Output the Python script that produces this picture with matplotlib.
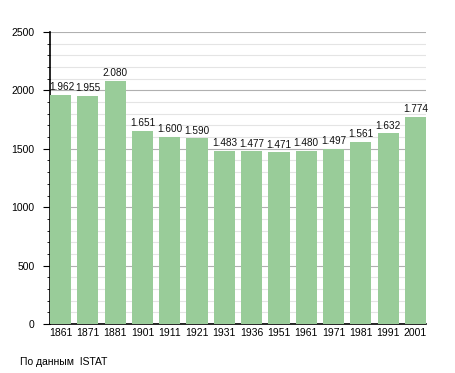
import matplotlib
matplotlib.use("Agg")
import matplotlib.pyplot as plt
from matplotlib.ticker import MultipleLocator

plt.rcParams['font.family'] = ['Liberation Sans', 'DejaVu Sans']

years = ['1861', '1871', '1881', '1901', '1911', '1921', '1931',
         '1936', '1951', '1961', '1971', '1981', '1991', '2001']
population = [1962, 1955, 2080, 1651, 1600, 1590, 1483,
              1477, 1471, 1480, 1497, 1561, 1632, 1774]

fig = plt.figure(figsize=(4.55, 3.73), dpi=100)
ax = fig.add_axes([50 / 455, 49 / 373, 376 / 455, 292 / 373])

x = range(len(years))
bars = ax.bar(x, population, width=0.775, color='#99cc99', zorder=3)

# value labels, thousands with a dot
for i, (b, v) in enumerate(zip(bars, population)):
    cx = b.get_x() + b.get_width() / 2
    if i == 0:
        cx += 0.05  # nudge first label off the axis line
    ax.text(cx, v + 40, f"{v:,}".replace(',', '.'),
            ha='center', va='baseline', fontsize=7.2, color='#111111', zorder=4)

ax.set_xlim(-0.3875, len(years) - 1 + 0.3875)
ax.set_ylim(0, 2500)
ax.yaxis.set_major_locator(MultipleLocator(500))
ax.yaxis.set_minor_locator(MultipleLocator(100))
ax.grid(which='major', axis='y', color='#b0b0b0', linewidth=0.8, zorder=0)
ax.grid(which='minor', axis='y', color='#e4e4e4', linewidth=0.8, zorder=0)

ax.set_xticks(list(x))
ax.set_xticklabels(years, fontsize=7.5)
ax.tick_params(axis='x', length=0, pad=3)
ax.tick_params(axis='y', which='major', length=5, labelsize=7.5, pad=6)
ax.tick_params(axis='y', which='minor', length=2)

for s in ['top', 'right']:
    ax.spines[s].set_visible(False)
ax.spines['left'].set_linewidth(1.2)
ax.spines['bottom'].set_linewidth(1.2)

fig.text(20 / 455, 1 - 362 / 373, 'По данным  ISTAT', fontsize=7.5,
         va='center', ha='left')

fig.savefig('out.png', dpi=100)
